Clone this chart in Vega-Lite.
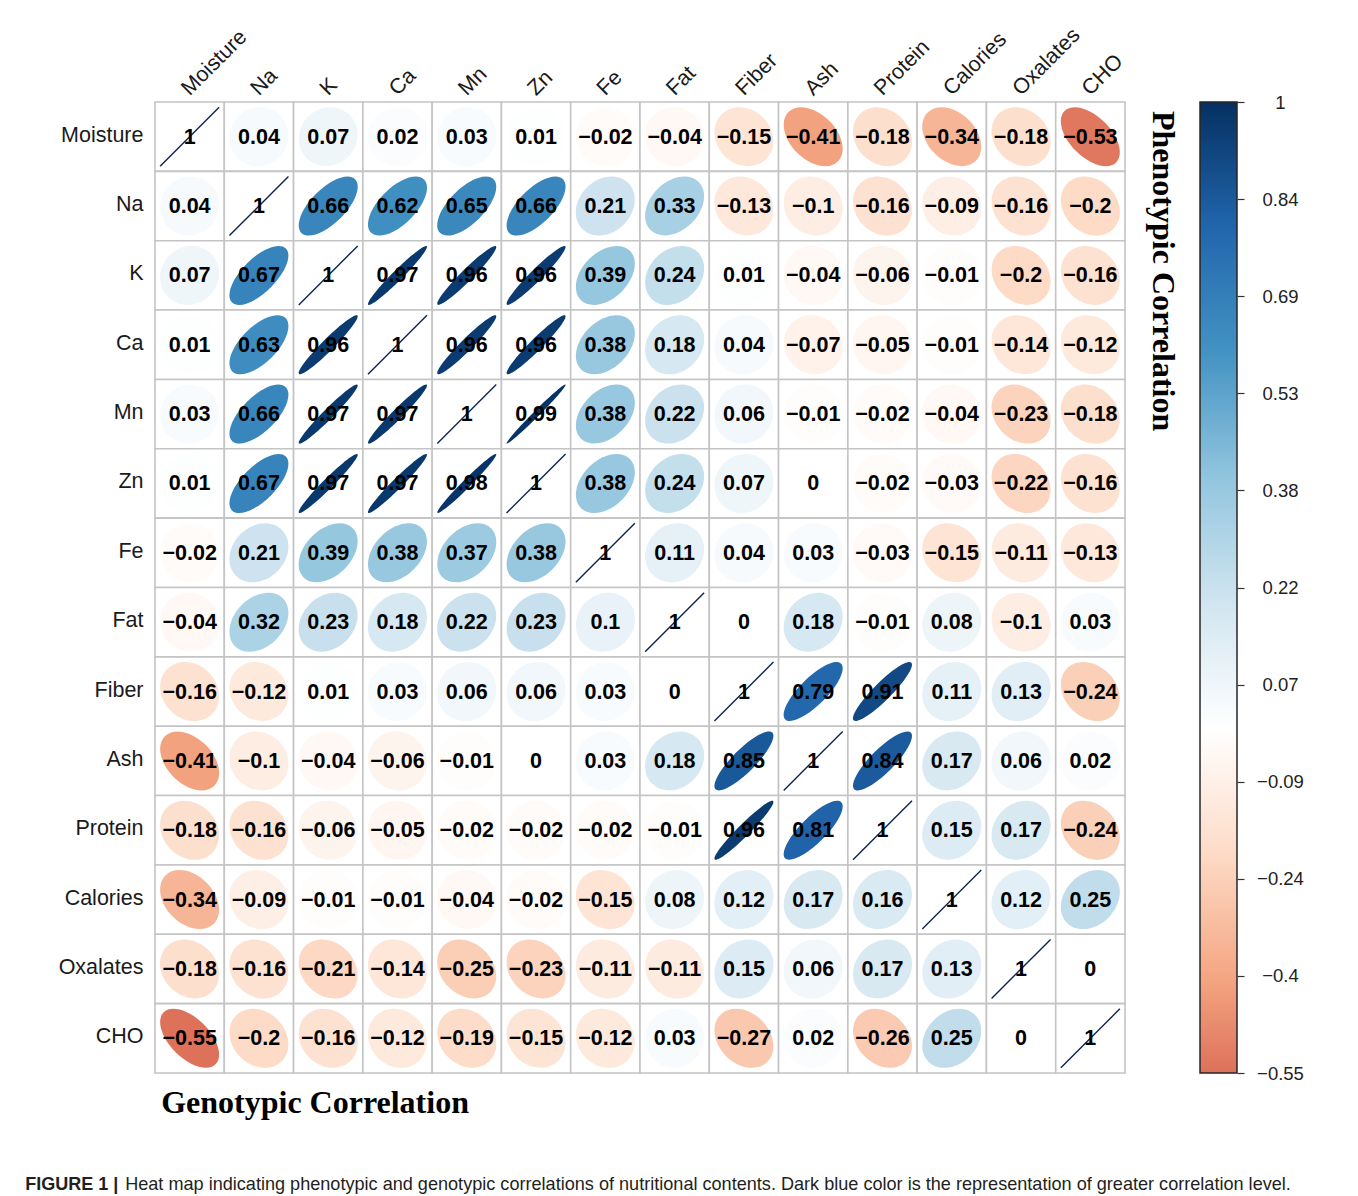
{
  "$schema": "https://vega.github.io/schema/vega-lite/v6.json",
  "background": "white",
  "padding": {"left": 25, "top": 23, "right": 5, "bottom": 2},
  "config": {"view": {"stroke": null}, "font": "Liberation Sans"},
  "datasets": {
    "cells": [
      {"row":"Moisture","col":"Moisture","r":1},{"row":"Moisture","col":"Na","r":0.04},{"row":"Moisture","col":"K","r":0.07},{"row":"Moisture","col":"Ca","r":0.02},{"row":"Moisture","col":"Mn","r":0.03},{"row":"Moisture","col":"Zn","r":0.01},{"row":"Moisture","col":"Fe","r":-0.02},{"row":"Moisture","col":"Fat","r":-0.04},{"row":"Moisture","col":"Fiber","r":-0.15},{"row":"Moisture","col":"Ash","r":-0.41},{"row":"Moisture","col":"Protein","r":-0.18},{"row":"Moisture","col":"Calories","r":-0.34},{"row":"Moisture","col":"Oxalates","r":-0.18},{"row":"Moisture","col":"CHO","r":-0.53},
      {"row":"Na","col":"Moisture","r":0.04},{"row":"Na","col":"Na","r":1},{"row":"Na","col":"K","r":0.66},{"row":"Na","col":"Ca","r":0.62},{"row":"Na","col":"Mn","r":0.65},{"row":"Na","col":"Zn","r":0.66},{"row":"Na","col":"Fe","r":0.21},{"row":"Na","col":"Fat","r":0.33},{"row":"Na","col":"Fiber","r":-0.13},{"row":"Na","col":"Ash","r":-0.1},{"row":"Na","col":"Protein","r":-0.16},{"row":"Na","col":"Calories","r":-0.09},{"row":"Na","col":"Oxalates","r":-0.16},{"row":"Na","col":"CHO","r":-0.2},
      {"row":"K","col":"Moisture","r":0.07},{"row":"K","col":"Na","r":0.67},{"row":"K","col":"K","r":1},{"row":"K","col":"Ca","r":0.97},{"row":"K","col":"Mn","r":0.96},{"row":"K","col":"Zn","r":0.96},{"row":"K","col":"Fe","r":0.39},{"row":"K","col":"Fat","r":0.24},{"row":"K","col":"Fiber","r":0.01},{"row":"K","col":"Ash","r":-0.04},{"row":"K","col":"Protein","r":-0.06},{"row":"K","col":"Calories","r":-0.01},{"row":"K","col":"Oxalates","r":-0.2},{"row":"K","col":"CHO","r":-0.16},
      {"row":"Ca","col":"Moisture","r":0.01},{"row":"Ca","col":"Na","r":0.63},{"row":"Ca","col":"K","r":0.96},{"row":"Ca","col":"Ca","r":1},{"row":"Ca","col":"Mn","r":0.96},{"row":"Ca","col":"Zn","r":0.96},{"row":"Ca","col":"Fe","r":0.38},{"row":"Ca","col":"Fat","r":0.18},{"row":"Ca","col":"Fiber","r":0.04},{"row":"Ca","col":"Ash","r":-0.07},{"row":"Ca","col":"Protein","r":-0.05},{"row":"Ca","col":"Calories","r":-0.01},{"row":"Ca","col":"Oxalates","r":-0.14},{"row":"Ca","col":"CHO","r":-0.12},
      {"row":"Mn","col":"Moisture","r":0.03},{"row":"Mn","col":"Na","r":0.66},{"row":"Mn","col":"K","r":0.97},{"row":"Mn","col":"Ca","r":0.97},{"row":"Mn","col":"Mn","r":1},{"row":"Mn","col":"Zn","r":0.99},{"row":"Mn","col":"Fe","r":0.38},{"row":"Mn","col":"Fat","r":0.22},{"row":"Mn","col":"Fiber","r":0.06},{"row":"Mn","col":"Ash","r":-0.01},{"row":"Mn","col":"Protein","r":-0.02},{"row":"Mn","col":"Calories","r":-0.04},{"row":"Mn","col":"Oxalates","r":-0.23},{"row":"Mn","col":"CHO","r":-0.18},
      {"row":"Zn","col":"Moisture","r":0.01},{"row":"Zn","col":"Na","r":0.67},{"row":"Zn","col":"K","r":0.97},{"row":"Zn","col":"Ca","r":0.97},{"row":"Zn","col":"Mn","r":0.98},{"row":"Zn","col":"Zn","r":1},{"row":"Zn","col":"Fe","r":0.38},{"row":"Zn","col":"Fat","r":0.24},{"row":"Zn","col":"Fiber","r":0.07},{"row":"Zn","col":"Ash","r":0},{"row":"Zn","col":"Protein","r":-0.02},{"row":"Zn","col":"Calories","r":-0.03},{"row":"Zn","col":"Oxalates","r":-0.22},{"row":"Zn","col":"CHO","r":-0.16},
      {"row":"Fe","col":"Moisture","r":-0.02},{"row":"Fe","col":"Na","r":0.21},{"row":"Fe","col":"K","r":0.39},{"row":"Fe","col":"Ca","r":0.38},{"row":"Fe","col":"Mn","r":0.37},{"row":"Fe","col":"Zn","r":0.38},{"row":"Fe","col":"Fe","r":1},{"row":"Fe","col":"Fat","r":0.11},{"row":"Fe","col":"Fiber","r":0.04},{"row":"Fe","col":"Ash","r":0.03},{"row":"Fe","col":"Protein","r":-0.03},{"row":"Fe","col":"Calories","r":-0.15},{"row":"Fe","col":"Oxalates","r":-0.11},{"row":"Fe","col":"CHO","r":-0.13},
      {"row":"Fat","col":"Moisture","r":-0.04},{"row":"Fat","col":"Na","r":0.32},{"row":"Fat","col":"K","r":0.23},{"row":"Fat","col":"Ca","r":0.18},{"row":"Fat","col":"Mn","r":0.22},{"row":"Fat","col":"Zn","r":0.23},{"row":"Fat","col":"Fe","r":0.1},{"row":"Fat","col":"Fat","r":1},{"row":"Fat","col":"Fiber","r":0},{"row":"Fat","col":"Ash","r":0.18},{"row":"Fat","col":"Protein","r":-0.01},{"row":"Fat","col":"Calories","r":0.08},{"row":"Fat","col":"Oxalates","r":-0.1},{"row":"Fat","col":"CHO","r":0.03},
      {"row":"Fiber","col":"Moisture","r":-0.16},{"row":"Fiber","col":"Na","r":-0.12},{"row":"Fiber","col":"K","r":0.01},{"row":"Fiber","col":"Ca","r":0.03},{"row":"Fiber","col":"Mn","r":0.06},{"row":"Fiber","col":"Zn","r":0.06},{"row":"Fiber","col":"Fe","r":0.03},{"row":"Fiber","col":"Fat","r":0},{"row":"Fiber","col":"Fiber","r":1},{"row":"Fiber","col":"Ash","r":0.79},{"row":"Fiber","col":"Protein","r":0.91},{"row":"Fiber","col":"Calories","r":0.11},{"row":"Fiber","col":"Oxalates","r":0.13},{"row":"Fiber","col":"CHO","r":-0.24},
      {"row":"Ash","col":"Moisture","r":-0.41},{"row":"Ash","col":"Na","r":-0.1},{"row":"Ash","col":"K","r":-0.04},{"row":"Ash","col":"Ca","r":-0.06},{"row":"Ash","col":"Mn","r":-0.01},{"row":"Ash","col":"Zn","r":0},{"row":"Ash","col":"Fe","r":0.03},{"row":"Ash","col":"Fat","r":0.18},{"row":"Ash","col":"Fiber","r":0.85},{"row":"Ash","col":"Ash","r":1},{"row":"Ash","col":"Protein","r":0.84},{"row":"Ash","col":"Calories","r":0.17},{"row":"Ash","col":"Oxalates","r":0.06},{"row":"Ash","col":"CHO","r":0.02},
      {"row":"Protein","col":"Moisture","r":-0.18},{"row":"Protein","col":"Na","r":-0.16},{"row":"Protein","col":"K","r":-0.06},{"row":"Protein","col":"Ca","r":-0.05},{"row":"Protein","col":"Mn","r":-0.02},{"row":"Protein","col":"Zn","r":-0.02},{"row":"Protein","col":"Fe","r":-0.02},{"row":"Protein","col":"Fat","r":-0.01},{"row":"Protein","col":"Fiber","r":0.96},{"row":"Protein","col":"Ash","r":0.81},{"row":"Protein","col":"Protein","r":1},{"row":"Protein","col":"Calories","r":0.15},{"row":"Protein","col":"Oxalates","r":0.17},{"row":"Protein","col":"CHO","r":-0.24},
      {"row":"Calories","col":"Moisture","r":-0.34},{"row":"Calories","col":"Na","r":-0.09},{"row":"Calories","col":"K","r":-0.01},{"row":"Calories","col":"Ca","r":-0.01},{"row":"Calories","col":"Mn","r":-0.04},{"row":"Calories","col":"Zn","r":-0.02},{"row":"Calories","col":"Fe","r":-0.15},{"row":"Calories","col":"Fat","r":0.08},{"row":"Calories","col":"Fiber","r":0.12},{"row":"Calories","col":"Ash","r":0.17},{"row":"Calories","col":"Protein","r":0.16},{"row":"Calories","col":"Calories","r":1},{"row":"Calories","col":"Oxalates","r":0.12},{"row":"Calories","col":"CHO","r":0.25},
      {"row":"Oxalates","col":"Moisture","r":-0.18},{"row":"Oxalates","col":"Na","r":-0.16},{"row":"Oxalates","col":"K","r":-0.21},{"row":"Oxalates","col":"Ca","r":-0.14},{"row":"Oxalates","col":"Mn","r":-0.25},{"row":"Oxalates","col":"Zn","r":-0.23},{"row":"Oxalates","col":"Fe","r":-0.11},{"row":"Oxalates","col":"Fat","r":-0.11},{"row":"Oxalates","col":"Fiber","r":0.15},{"row":"Oxalates","col":"Ash","r":0.06},{"row":"Oxalates","col":"Protein","r":0.17},{"row":"Oxalates","col":"Calories","r":0.13},{"row":"Oxalates","col":"Oxalates","r":1},{"row":"Oxalates","col":"CHO","r":0},
      {"row":"CHO","col":"Moisture","r":-0.55},{"row":"CHO","col":"Na","r":-0.2},{"row":"CHO","col":"K","r":-0.16},{"row":"CHO","col":"Ca","r":-0.12},{"row":"CHO","col":"Mn","r":-0.19},{"row":"CHO","col":"Zn","r":-0.15},{"row":"CHO","col":"Fe","r":-0.12},{"row":"CHO","col":"Fat","r":0.03},{"row":"CHO","col":"Fiber","r":-0.27},{"row":"CHO","col":"Ash","r":0.02},{"row":"CHO","col":"Protein","r":-0.26},{"row":"CHO","col":"Calories","r":0.25},{"row":"CHO","col":"Oxalates","r":0},{"row":"CHO","col":"CHO","r":1}
    ]
  },
  "title": {"text": "Heat map indicating phenotypic and genotypic correlations of nutritional contents. Dark blue color is the representation of greater correlation level.", "orient": "bottom", "anchor": "start", "font": "Liberation Sans", "fontSize": 18.1, "fontWeight": "normal", "color": "#231f20", "offset": 0, "dx": 100, "dy": -18},
  "vconcat": [
    {
      "title": {"text": "FIGURE 1 |", "orient": "bottom", "anchor": "start", "font": "Liberation Sans", "fontSize": 18, "fontWeight": "bold", "color": "#231f20", "offset": 57, "dx": -33},
      "vconcat": [
        {
          "title": {"text": "Genotypic Correlation", "orient": "bottom", "anchor": "start", "font": "Liberation Serif", "fontSize": 32, "fontWeight": "bold", "color": "black", "offset": 5, "dx": 103},
          "spacing": 20,
          "hconcat": [
            {
              "width": 970,
              "height": 971,
              "data": {"name": "cells"},
              "title": {"text": "Phenotypic Correlation", "orient": "right", "anchor": "start", "frame": "group", "font": "Liberation Serif", "fontSize": 32, "fontWeight": "bold", "color": "black", "offset": 19, "dx": 9},
              "encoding": {
                "x": {"field": "col", "type": "nominal", "sort": ["Moisture","Na","K","Ca","Mn","Zn","Fe","Fat","Fiber","Ash","Protein","Calories","Oxalates","CHO"], "scale": {"domain": ["Moisture","Na","K","Ca","Mn","Zn","Fe","Fat","Fiber","Ash","Protein","Calories","Oxalates","CHO"], "paddingInner": 0, "paddingOuter": 0}, "axis": {"orient": "top", "title": null, "labelAngle": -45, "labelAlign": "left", "labelBaseline": "alphabetic", "labelPadding": 6, "ticks": false, "tickSize": 0, "domain": false, "grid": false, "labelFont": "Liberation Sans", "labelFontSize": 21.5, "labelColor": "#1a1a1a", "labelOverlap": false, "labelBound": false, "labelLimit": 0}},
                "y": {"field": "row", "type": "nominal", "sort": ["Moisture","Na","K","Ca","Mn","Zn","Fe","Fat","Fiber","Ash","Protein","Calories","Oxalates","CHO"], "scale": {"domain": ["Moisture","Na","K","Ca","Mn","Zn","Fe","Fat","Fiber","Ash","Protein","Calories","Oxalates","CHO"], "paddingInner": 0, "paddingOuter": 0}, "axis": {"orient": "left", "title": null, "labelAlign": "right", "labelBaseline": "middle", "labelPadding": 12, "labelOffset": -1, "ticks": false, "tickSize": 0, "domain": false, "grid": false, "labelFont": "Liberation Sans", "labelFontSize": 21.5, "labelColor": "#1a1a1a", "labelOverlap": false, "labelBound": false, "labelLimit": 0}}
              },
              "layer": [
                {"mark": {"type": "rect", "fill": "white", "stroke": "#c4c4c4", "strokeWidth": 1.6}},
                {
                  "transform": [{"filter": "datum.r < 1"}],
                  "mark": {"type": "point", "filled": true, "size": 3481, "opacity": 1, "strokeWidth": 0},
                  "encoding": {
                    "color": {"field": "r", "type": "quantitative", "scale": {"domain": [-0.55, -0.4, -0.2, 0, 0.2, 0.4, 0.6, 0.8, 1], "range": ["#dd715a", "#f4a582", "#fddbc7", "#ffffff", "#d1e5f0", "#92c5de", "#4393c3", "#2166ac", "#053061"], "interpolate": "rgb"}, "legend": null},
                    "angle": {"field": "r", "type": "quantitative", "scale": {"type": "threshold", "domain": [0], "range": [45, 315]}},
                    "shape": {"field": "r", "type": "nominal", "legend": null, "scale": {
                      "domain": [-0.55,-0.53,-0.41,-0.34,-0.27,-0.26,-0.25,-0.24,-0.23,-0.22,-0.21,-0.2,-0.19,-0.18,-0.16,-0.15,-0.14,-0.13,-0.12,-0.11,-0.1,-0.09,-0.07,-0.06,-0.05,-0.04,-0.03,-0.02,-0.01,0,0.01,0.02,0.03,0.04,0.06,0.07,0.08,0.1,0.11,0.12,0.13,0.15,0.16,0.17,0.18,0.21,0.22,0.23,0.24,0.25,0.32,0.33,0.37,0.38,0.39,0.62,0.63,0.65,0.66,0.67,0.79,0.81,0.84,0.85,0.91,0.96,0.97,0.98,0.99],
                      "range": [
                        "M -1.245 0 A 1.245 0.671 0 1 1 1.245 0 A 1.245 0.671 0 1 1 -1.245 0 Z",
                        "M -1.237 0 A 1.237 0.686 0 1 1 1.237 0 A 1.237 0.686 0 1 1 -1.237 0 Z",
                        "M -1.187 0 A 1.187 0.768 0 1 1 1.187 0 A 1.187 0.768 0 1 1 -1.187 0 Z",
                        "M -1.158 0 A 1.158 0.812 0 1 1 1.158 0 A 1.158 0.812 0 1 1 -1.158 0 Z",
                        "M -1.127 0 A 1.127 0.854 0 1 1 1.127 0 A 1.127 0.854 0 1 1 -1.127 0 Z",
                        "M -1.122 0 A 1.122 0.86 0 1 1 1.122 0 A 1.122 0.86 0 1 1 -1.122 0 Z",
                        "M -1.118 0 A 1.118 0.866 0 1 1 1.118 0 A 1.118 0.866 0 1 1 -1.118 0 Z",
                        "M -1.114 0 A 1.114 0.872 0 1 1 1.114 0 A 1.114 0.872 0 1 1 -1.114 0 Z",
                        "M -1.109 0 A 1.109 0.877 0 1 1 1.109 0 A 1.109 0.877 0 1 1 -1.109 0 Z",
                        "M -1.105 0 A 1.105 0.883 0 1 1 1.105 0 A 1.105 0.883 0 1 1 -1.105 0 Z",
                        "M -1.1 0 A 1.1 0.889 0 1 1 1.1 0 A 1.1 0.889 0 1 1 -1.1 0 Z",
                        "M -1.095 0 A 1.095 0.894 0 1 1 1.095 0 A 1.095 0.894 0 1 1 -1.095 0 Z",
                        "M -1.091 0 A 1.091 0.9 0 1 1 1.091 0 A 1.091 0.9 0 1 1 -1.091 0 Z",
                        "M -1.086 0 A 1.086 0.906 0 1 1 1.086 0 A 1.086 0.906 0 1 1 -1.086 0 Z",
                        "M -1.077 0 A 1.077 0.917 0 1 1 1.077 0 A 1.077 0.917 0 1 1 -1.077 0 Z",
                        "M -1.072 0 A 1.072 0.922 0 1 1 1.072 0 A 1.072 0.922 0 1 1 -1.072 0 Z",
                        "M -1.068 0 A 1.068 0.927 0 1 1 1.068 0 A 1.068 0.927 0 1 1 -1.068 0 Z",
                        "M -1.063 0 A 1.063 0.933 0 1 1 1.063 0 A 1.063 0.933 0 1 1 -1.063 0 Z",
                        "M -1.058 0 A 1.058 0.938 0 1 1 1.058 0 A 1.058 0.938 0 1 1 -1.058 0 Z",
                        "M -1.054 0 A 1.054 0.943 0 1 1 1.054 0 A 1.054 0.943 0 1 1 -1.054 0 Z",
                        "M -1.049 0 A 1.049 0.949 0 1 1 1.049 0 A 1.049 0.949 0 1 1 -1.049 0 Z",
                        "M -1.044 0 A 1.044 0.954 0 1 1 1.044 0 A 1.044 0.954 0 1 1 -1.044 0 Z",
                        "M -1.034 0 A 1.034 0.964 0 1 1 1.034 0 A 1.034 0.964 0 1 1 -1.034 0 Z",
                        "M -1.03 0 A 1.03 0.97 0 1 1 1.03 0 A 1.03 0.97 0 1 1 -1.03 0 Z",
                        "M -1.025 0 A 1.025 0.975 0 1 1 1.025 0 A 1.025 0.975 0 1 1 -1.025 0 Z",
                        "M -1.02 0 A 1.02 0.98 0 1 1 1.02 0 A 1.02 0.98 0 1 1 -1.02 0 Z",
                        "M -1.015 0 A 1.015 0.985 0 1 1 1.015 0 A 1.015 0.985 0 1 1 -1.015 0 Z",
                        "M -1.01 0 A 1.01 0.99 0 1 1 1.01 0 A 1.01 0.99 0 1 1 -1.01 0 Z",
                        "M -1.005 0 A 1.005 0.995 0 1 1 1.005 0 A 1.005 0.995 0 1 1 -1.005 0 Z",
                        "M -1 0 A 1 1 0 1 1 1 0 A 1 1 0 1 1 -1 0 Z",
                        "M -1.005 0 A 1.005 0.995 0 1 1 1.005 0 A 1.005 0.995 0 1 1 -1.005 0 Z",
                        "M -1.01 0 A 1.01 0.99 0 1 1 1.01 0 A 1.01 0.99 0 1 1 -1.01 0 Z",
                        "M -1.015 0 A 1.015 0.985 0 1 1 1.015 0 A 1.015 0.985 0 1 1 -1.015 0 Z",
                        "M -1.02 0 A 1.02 0.98 0 1 1 1.02 0 A 1.02 0.98 0 1 1 -1.02 0 Z",
                        "M -1.03 0 A 1.03 0.97 0 1 1 1.03 0 A 1.03 0.97 0 1 1 -1.03 0 Z",
                        "M -1.034 0 A 1.034 0.964 0 1 1 1.034 0 A 1.034 0.964 0 1 1 -1.034 0 Z",
                        "M -1.039 0 A 1.039 0.959 0 1 1 1.039 0 A 1.039 0.959 0 1 1 -1.039 0 Z",
                        "M -1.049 0 A 1.049 0.949 0 1 1 1.049 0 A 1.049 0.949 0 1 1 -1.049 0 Z",
                        "M -1.054 0 A 1.054 0.943 0 1 1 1.054 0 A 1.054 0.943 0 1 1 -1.054 0 Z",
                        "M -1.058 0 A 1.058 0.938 0 1 1 1.058 0 A 1.058 0.938 0 1 1 -1.058 0 Z",
                        "M -1.063 0 A 1.063 0.933 0 1 1 1.063 0 A 1.063 0.933 0 1 1 -1.063 0 Z",
                        "M -1.072 0 A 1.072 0.922 0 1 1 1.072 0 A 1.072 0.922 0 1 1 -1.072 0 Z",
                        "M -1.077 0 A 1.077 0.917 0 1 1 1.077 0 A 1.077 0.917 0 1 1 -1.077 0 Z",
                        "M -1.082 0 A 1.082 0.911 0 1 1 1.082 0 A 1.082 0.911 0 1 1 -1.082 0 Z",
                        "M -1.086 0 A 1.086 0.906 0 1 1 1.086 0 A 1.086 0.906 0 1 1 -1.086 0 Z",
                        "M -1.1 0 A 1.1 0.889 0 1 1 1.1 0 A 1.1 0.889 0 1 1 -1.1 0 Z",
                        "M -1.105 0 A 1.105 0.883 0 1 1 1.105 0 A 1.105 0.883 0 1 1 -1.105 0 Z",
                        "M -1.109 0 A 1.109 0.877 0 1 1 1.109 0 A 1.109 0.877 0 1 1 -1.109 0 Z",
                        "M -1.114 0 A 1.114 0.872 0 1 1 1.114 0 A 1.114 0.872 0 1 1 -1.114 0 Z",
                        "M -1.118 0 A 1.118 0.866 0 1 1 1.118 0 A 1.118 0.866 0 1 1 -1.118 0 Z",
                        "M -1.149 0 A 1.149 0.825 0 1 1 1.149 0 A 1.149 0.825 0 1 1 -1.149 0 Z",
                        "M -1.153 0 A 1.153 0.819 0 1 1 1.153 0 A 1.153 0.819 0 1 1 -1.153 0 Z",
                        "M -1.17 0 A 1.17 0.794 0 1 1 1.17 0 A 1.17 0.794 0 1 1 -1.17 0 Z",
                        "M -1.175 0 A 1.175 0.787 0 1 1 1.175 0 A 1.175 0.787 0 1 1 -1.175 0 Z",
                        "M -1.179 0 A 1.179 0.781 0 1 1 1.179 0 A 1.179 0.781 0 1 1 -1.179 0 Z",
                        "M -1.273 0 A 1.273 0.616 0 1 1 1.273 0 A 1.273 0.616 0 1 1 -1.273 0 Z",
                        "M -1.277 0 A 1.277 0.608 0 1 1 1.277 0 A 1.277 0.608 0 1 1 -1.277 0 Z",
                        "M -1.285 0 A 1.285 0.592 0 1 1 1.285 0 A 1.285 0.592 0 1 1 -1.285 0 Z",
                        "M -1.288 0 A 1.288 0.583 0 1 1 1.288 0 A 1.288 0.583 0 1 1 -1.288 0 Z",
                        "M -1.292 0 A 1.292 0.574 0 1 1 1.292 0 A 1.292 0.574 0 1 1 -1.292 0 Z",
                        "M -1.338 0 A 1.338 0.458 0 1 1 1.338 0 A 1.338 0.458 0 1 1 -1.338 0 Z",
                        "M -1.345 0 A 1.345 0.436 0 1 1 1.345 0 A 1.345 0.436 0 1 1 -1.345 0 Z",
                        "M -1.356 0 A 1.356 0.4 0 1 1 1.356 0 A 1.356 0.4 0 1 1 -1.356 0 Z",
                        "M -1.36 0 A 1.36 0.387 0 1 1 1.36 0 A 1.36 0.387 0 1 1 -1.36 0 Z",
                        "M -1.382 0 A 1.382 0.3 0 1 1 1.382 0 A 1.382 0.3 0 1 1 -1.382 0 Z",
                        "M -1.4 0 A 1.4 0.2 0 1 1 1.4 0 A 1.4 0.2 0 1 1 -1.4 0 Z",
                        "M -1.404 0 A 1.404 0.173 0 1 1 1.404 0 A 1.404 0.173 0 1 1 -1.404 0 Z",
                        "M -1.407 0 A 1.407 0.141 0 1 1 1.407 0 A 1.407 0.141 0 1 1 -1.407 0 Z",
                        "M -1.411 0 A 1.411 0.1 0 1 1 1.411 0 A 1.411 0.1 0 1 1 -1.411 0 Z"
                      ]}}
                  }
                },
                {
                  "transform": [{"filter": "datum.r == 1"}],
                  "mark": {"type": "point", "shape": "M -1 1 L 1 -1", "size": 3481, "filled": false, "stroke": "#0b2550", "strokeWidth": 1.4, "opacity": 1}
                },
                {
                  "mark": {"type": "text", "font": "Liberation Sans", "fontSize": 21.5, "fontWeight": "bold", "color": "black", "baseline": "middle", "dy": 1},
                  "encoding": {"text": {"field": "r", "type": "quantitative", "format": ".2~f"}}
                }
              ]
            },
            {
              "width": 37,
              "height": 971,
              "data": {"values": [{"lo": -0.55, "hi": 1}]},
              "mark": {"type": "rect", "stroke": "#262626", "strokeWidth": 1.5, "fill": {"gradient": "linear", "x1": 0, "y1": 1, "x2": 0, "y2": 0, "stops": [
                {"offset": 0, "color": "#dd715a"},
                {"offset": 0.0968, "color": "#f4a582"},
                {"offset": 0.2258, "color": "#fddbc7"},
                {"offset": 0.3548, "color": "#ffffff"},
                {"offset": 0.4839, "color": "#d1e5f0"},
                {"offset": 0.6129, "color": "#92c5de"},
                {"offset": 0.7419, "color": "#4393c3"},
                {"offset": 0.871, "color": "#2166ac"},
                {"offset": 1, "color": "#053061"}
              ]}},
              "encoding": {
                "y": {"field": "lo", "type": "quantitative", "scale": {"domain": [-0.55, 1], "nice": false, "zero": false}, "axis": {"orient": "right", "title": null, "values": [1, 0.845, 0.69, 0.535, 0.38, 0.225, 0.07, -0.085, -0.24, -0.395, -0.55], "format": ".2~f", "labelExpr": "abs(datum.value - 0.225) < 0.001 ? '0.22' : abs(datum.value - 0.535) < 0.001 ? '0.53' : datum.label", "grid": false, "domain": false, "ticks": true, "tickSize": 7, "tickColor": "#333333", "tickWidth": 1.2, "labelFont": "Liberation Sans", "labelFontSize": 18.5, "labelColor": "#222222", "labelAlign": "center", "labelBaseline": "middle", "labelPadding": 36, "labelFlush": false, "labelOverlap": false, "labelBound": false}},
                "y2": {"field": "hi"}
              }
            }
          ]
        }
      ]
    }
  ]
}
